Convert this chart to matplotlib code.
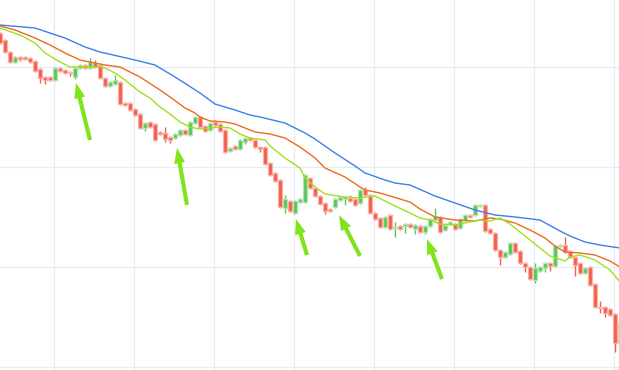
import numpy as np
import matplotlib
matplotlib.use("Agg")
import matplotlib.pyplot as plt

# candle data (one candle per bar)
opens = [1.1367, 1.1360, 1.1348, 1.1338, 1.1343, 1.1343, 1.1342, 1.1339, 1.1331, 1.1323,
         1.1323, 1.1320, 1.1332, 1.1330, 1.1328, 1.1323, 1.1332, 1.1335, 1.1332, 1.1337,
         1.1335, 1.1322, 1.1314, 1.1316, 1.1318, 1.1297, 1.1297, 1.1291, 1.1286, 1.1272,
         1.1278, 1.1276, 1.1268, 1.1267, 1.1263, 1.1262, 1.1265, 1.1270, 1.1265, 1.1277,
         1.1283, 1.1274, 1.1270, 1.1278, 1.1276, 1.1270, 1.1249, 1.1254, 1.1251, 1.1258,
         1.1262, 1.1260, 1.1253, 1.1253, 1.1237, 1.1227, 1.1220, 1.1192, 1.1199, 1.1187,
         1.1198, 1.1198, 1.1222, 1.1212, 1.1204, 1.1197, 1.1191, 1.1193, 1.1200, 1.1201,
         1.1202, 1.1201, 1.1197, 1.1210, 1.1205, 1.1187, 1.1182, 1.1173, 1.1185, 1.1172,
         1.1174, 1.1174, 1.1176, 1.1171, 1.1174, 1.1168, 1.1174, 1.1180, 1.1183, 1.1170,
         1.1176, 1.1176, 1.1172, 1.1180, 1.1185, 1.1185, 1.1194, 1.1195, 1.1171, 1.1167,
         1.1150, 1.1143, 1.1146, 1.1157, 1.1149, 1.1137, 1.1133, 1.1120, 1.1129, 1.1132,
         1.1137, 1.1134, 1.1154, 1.1155, 1.1149, 1.1143, 1.1137, 1.1127, 1.1133, 1.1116,
         1.1093, 1.1093, 1.1091, 1.1086, 1.1057]
closes = [1.1357, 1.1348, 1.1338, 1.1343, 1.1341, 1.1341, 1.1338, 1.1329, 1.1322, 1.1320,
          1.1320, 1.1332, 1.1329, 1.1327, 1.1327, 1.1332, 1.1335, 1.1332, 1.1338, 1.1333,
          1.1322, 1.1314, 1.1318, 1.1320, 1.1296, 1.1295, 1.1290, 1.1285, 1.1272, 1.1277,
          1.1273, 1.1260, 1.1266, 1.1261, 1.1260, 1.1266, 1.1270, 1.1266, 1.1278, 1.1283,
          1.1273, 1.1269, 1.1277, 1.1275, 1.1269, 1.1248, 1.1252, 1.1251, 1.1260, 1.1262,
          1.1260, 1.1253, 1.1251, 1.1236, 1.1225, 1.1219, 1.1193, 1.1201, 1.1189, 1.1199,
          1.1201, 1.1225, 1.1212, 1.1204, 1.1196, 1.1189, 1.1189, 1.1201, 1.1203, 1.1203,
          1.1199, 1.1195, 1.1210, 1.1205, 1.1187, 1.1181, 1.1173, 1.1183, 1.1171, 1.1173,
          1.1171, 1.1176, 1.1173, 1.1175, 1.1168, 1.1174, 1.1181, 1.1184, 1.1168, 1.1175,
          1.1178, 1.1171, 1.1181, 1.1185, 1.1183, 1.1195, 1.1195, 1.1169, 1.1167, 1.1150,
          1.1143, 1.1148, 1.1157, 1.1148, 1.1137, 1.1133, 1.1121, 1.1132, 1.1133, 1.1137,
          1.1134, 1.1154, 1.1155, 1.1148, 1.1143, 1.1135, 1.1127, 1.1132, 1.1115, 1.1093,
          1.1092, 1.1087, 1.1085, 1.1057, 1.1077]
highs = [1.1368, 1.1361, 1.1349, 1.1344, 1.1344, 1.1344, 1.1343, 1.1340, 1.1332, 1.1324,
         1.1324, 1.1333, 1.1333, 1.1331, 1.1329, 1.1333, 1.1336, 1.1336, 1.1342, 1.1340,
         1.1336, 1.1323, 1.1319, 1.1325, 1.1319, 1.1298, 1.1298, 1.1292, 1.1287, 1.1278,
         1.1279, 1.1277, 1.1269, 1.1273, 1.1264, 1.1267, 1.1271, 1.1271, 1.1279, 1.1284,
         1.1284, 1.1275, 1.1278, 1.1280, 1.1277, 1.1271, 1.1253, 1.1255, 1.1261, 1.1263,
         1.1263, 1.1261, 1.1254, 1.1254, 1.1238, 1.1228, 1.1221, 1.1205, 1.1200, 1.1200,
         1.1202, 1.1226, 1.1223, 1.1213, 1.1205, 1.1198, 1.1192, 1.1202, 1.1204, 1.1204,
         1.1205, 1.1202, 1.1211, 1.1213, 1.1206, 1.1188, 1.1183, 1.1184, 1.1186, 1.1178,
         1.1175, 1.1177, 1.1177, 1.1176, 1.1175, 1.1175, 1.1182, 1.1192, 1.1184, 1.1176,
         1.1179, 1.1177, 1.1182, 1.1186, 1.1186, 1.1196, 1.1196, 1.1196, 1.1172, 1.1168,
         1.1151, 1.1149, 1.1158, 1.1158, 1.1150, 1.1138, 1.1134, 1.1137, 1.1134, 1.1138,
         1.1138, 1.1155, 1.1156, 1.1163, 1.1150, 1.1144, 1.1138, 1.1133, 1.1134, 1.1117,
         1.1099, 1.1094, 1.1092, 1.1087, 1.1078]
lows = [1.1356, 1.1347, 1.1337, 1.1337, 1.1339, 1.1340, 1.1337, 1.1328, 1.1317, 1.1316,
        1.1319, 1.1319, 1.1328, 1.1326, 1.1324, 1.1321, 1.1331, 1.1331, 1.1331, 1.1332,
        1.1321, 1.1313, 1.1313, 1.1315, 1.1295, 1.1294, 1.1289, 1.1284, 1.1271, 1.1269,
        1.1272, 1.1259, 1.1265, 1.1258, 1.1257, 1.1261, 1.1264, 1.1265, 1.1264, 1.1276,
        1.1272, 1.1268, 1.1269, 1.1274, 1.1268, 1.1247, 1.1248, 1.1250, 1.1250, 1.1256,
        1.1259, 1.1252, 1.1248, 1.1235, 1.1224, 1.1218, 1.1192, 1.1187, 1.1188, 1.1186,
        1.1197, 1.1197, 1.1211, 1.1203, 1.1195, 1.1186, 1.1188, 1.1192, 1.1199, 1.1195,
        1.1198, 1.1194, 1.1196, 1.1204, 1.1186, 1.1180, 1.1172, 1.1172, 1.1170, 1.1163,
        1.1170, 1.1167, 1.1172, 1.1166, 1.1167, 1.1166, 1.1173, 1.1179, 1.1167, 1.1169,
        1.1175, 1.1170, 1.1171, 1.1179, 1.1182, 1.1184, 1.1193, 1.1168, 1.1166, 1.1149,
        1.1135, 1.1142, 1.1145, 1.1147, 1.1136, 1.1128, 1.1120, 1.1117, 1.1128, 1.1128,
        1.1129, 1.1133, 1.1153, 1.1147, 1.1142, 1.1124, 1.1126, 1.1126, 1.1114, 1.1092,
        1.1087, 1.1083, 1.1084, 1.1048, 1.1056]

# moving averages, sampled at bar index
fast_x = [0, 4, 7, 9, 12, 14, 17, 20, 21, 23, 25, 28, 30, 32, 34, 36, 38, 40, 42, 44,
          46, 48, 50, 53, 54, 57, 60, 61, 63, 65, 69, 72, 75, 79, 82, 84, 86, 88, 91, 94,
          96, 98, 100, 102, 104, 106, 108, 110, 113, 114, 116, 119, 122, 124]
fast_y = [1.1372, 1.1365, 1.1357, 1.1347, 1.1338, 1.1333, 1.1333, 1.1333, 1.1332, 1.1327,
          1.1320, 1.1308, 1.1302, 1.1293, 1.1286, 1.1278, 1.1273, 1.1271, 1.1272, 1.1273,
          1.1272, 1.1266, 1.1262, 1.1260, 1.1254, 1.1242, 1.1232, 1.1222, 1.1213, 1.1206,
          1.1203, 1.1202, 1.1204, 1.1194, 1.1187, 1.1182, 1.1180, 1.1176, 1.1175, 1.1178,
          1.1180, 1.1179, 1.1182, 1.1176, 1.1168, 1.1160, 1.1152, 1.1144, 1.1139, 1.1143,
          1.1145, 1.1140, 1.1130, 1.1118]
mid_x = [0, 3, 7, 10, 13, 16, 19, 21, 24, 28, 32, 34, 37, 39, 40, 42, 45, 47, 50, 51,
         54, 57, 60, 63, 65, 69, 72, 73, 76, 80, 82, 84, 87, 91, 95, 98, 100, 103, 106, 109,
         111, 113, 116, 119, 122, 124]
mid_y = [1.1374, 1.1370, 1.1362, 1.1355, 1.1347, 1.1340, 1.1337, 1.1335, 1.1333, 1.1323,
         1.1310, 1.1303, 1.1292, 1.1287, 1.1283, 1.1279, 1.1278, 1.1276, 1.1270, 1.1268,
         1.1266, 1.1262, 1.1253, 1.1242, 1.1232, 1.1223, 1.1213, 1.1210, 1.1207, 1.1201,
         1.1198, 1.1191, 1.1183, 1.1180, 1.1179, 1.1182, 1.1181, 1.1177, 1.1170, 1.1162,
         1.1154, 1.1148, 1.1147, 1.1145, 1.1139, 1.1133]
slow_x = [0, 7, 13, 17, 20, 27, 31, 35, 40, 43, 47, 50, 52, 57, 61, 63, 67, 71, 73, 77,
          79, 82, 87, 91, 95, 99, 103, 108, 112, 114, 117, 120, 124]
slow_y = [1.1375, 1.1372, 1.1362, 1.1353, 1.1348, 1.1340, 1.1335, 1.1323, 1.1307, 1.1296,
          1.1290, 1.1285, 1.1283, 1.1277, 1.1267, 1.1261, 1.1247, 1.1234, 1.1227, 1.1220,
          1.1217, 1.1215, 1.1204, 1.1197, 1.1190, 1.1185, 1.1183, 1.1180, 1.1169, 1.1164,
          1.1158, 1.1155, 1.1152]

# arrows: (tip bar, tip price, tail bar, tail price)
arrows = [(15.2, 1.1317, 18.0, 1.1260),
          (35.4, 1.1252, 37.4, 1.1195),
          (59.2, 1.1181, 61.4, 1.1145),
          (67.8, 1.1185, 72.0, 1.1144),
          (85.4, 1.1161, 88.4, 1.1121)]

up_col = '#5cc45a'
up_edge = '#b3e6ae'
dn_col = '#f35f4d'
dn_edge = '#f9b3a9'

fig = plt.figure(figsize=(6.19, 3.70), dpi=100)
ax = fig.add_axes([0, 0, 1, 1])

x = np.arange(len(opens))
o = np.array(opens)
c = np.array(closes)
up = c >= o

# wicks
ax.vlines(x[up], np.array(lows)[up], np.array(highs)[up], color=up_col, lw=1.0, zorder=2)
ax.vlines(x[~up], np.array(lows)[~up], np.array(highs)[~up], color=dn_col, lw=1.0, zorder=2)

# bodies
body = np.abs(c - o)
body = np.maximum(body, 0.00012)
bottom = np.minimum(o, c)
ax.bar(x[up], body[up], bottom=bottom[up], width=0.62, color=up_col,
       edgecolor=up_edge, linewidth=0.9, zorder=3)
ax.bar(x[~up], body[~up], bottom=bottom[~up], width=0.62, color=dn_col,
       edgecolor=dn_edge, linewidth=0.9, zorder=3)

# moving averages
ax.plot(slow_x, slow_y, color='#3d7fe8', lw=1.0, zorder=4)
ax.plot(mid_x, mid_y, color='#ee6a1c', lw=1.0, zorder=4)
ax.plot(fast_x, fast_y, color='#a2e01f', lw=1.0, zorder=4)

for tx, ty, sx, sy in arrows:
    ax.annotate('', xy=(tx, ty), xytext=(sx, sy),
                arrowprops=dict(arrowstyle='simple,head_width=0.8,head_length=1.1,tail_width=0.3',
                                mutation_scale=10, color='#80e41c', lw=0,
                                shrinkA=0, shrinkB=0),
                zorder=5)

ax.set_xlim(0, 123.8)
ax.set_ylim(1.1030, 1.1400)
ax.set_xticks(np.arange(10.8, 124, 16))
ax.set_yticks([1.1033, 1.1133, 1.1233, 1.1333])
ax.grid(True, color='#e8ebf2', lw=0.8)
ax.set_axisbelow(True)
ax.tick_params(length=0, labelbottom=False, labelleft=False)
for s in ax.spines.values():
    s.set_visible(False)

fig.savefig('out.png', dpi=100)
